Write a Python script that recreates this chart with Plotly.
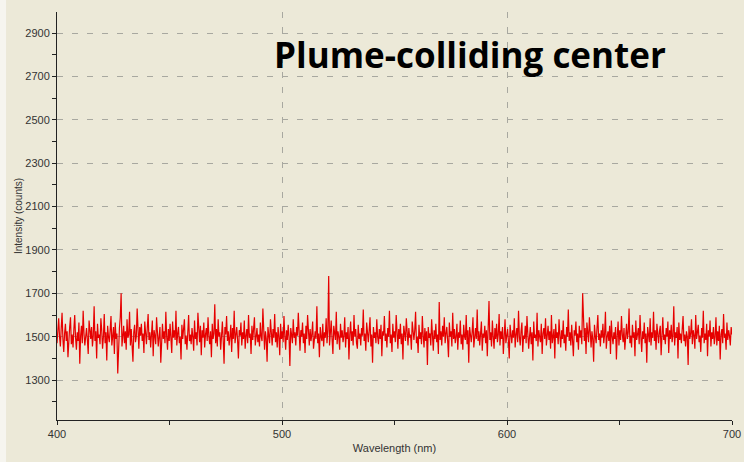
import plotly.graph_objects as go

# Wavelength grid (nm): 400 to 700 in 0.375 nm steps
wl_start = 400.0
wl_step = 0.375

intensity = [
    1470,1520,1585,1500,1455,1540,1610,1490,1430,1515,1560,1480,1525,1405,1500,1545,1590,1465,1510,1450,
    1535,1600,1495,1440,1520,1480,1565,1375,1505,1550,1470,1620,1515,1460,1500,1540,1485,1420,1575,1510,
    1490,1545,1455,1505,1640,1480,1525,1400,1560,1495,1510,1465,1585,1530,1445,1500,1605,1470,1520,1390,
    1550,1500,1475,1530,1595,1460,1510,1545,1420,1565,1490,1515,1330,1480,1540,1590,1700,1455,1505,1550,
    1470,1525,1440,1580,1495,1510,1615,1460,1535,1480,1385,1520,1555,1475,1500,1630,1490,1445,1545,1505,
    1560,1480,1515,1425,1570,1500,1465,1540,1605,1485,1520,1450,1495,1575,1410,1530,1505,1465,1590,1520,
    1455,1500,1545,1380,1510,1560,1490,1525,1470,1615,1500,1440,1535,1480,1560,1505,1425,1570,1495,1530,
    1485,1620,1460,1515,1545,1470,1500,1395,1555,1490,1530,1580,1465,1505,1440,1525,1600,1480,1510,1465,
    1540,1500,1435,1575,1490,1520,1460,1610,1505,1475,1550,1415,1530,1495,1565,1450,1510,1540,1480,1590,
    1500,1465,1525,1405,1560,1490,1515,1650,1470,1535,1455,1580,1500,1520,1440,1505,1570,1485,1375,1545,
    1510,1595,1480,1525,1460,1500,1555,1430,1540,1490,1620,1470,1515,1545,1485,1400,1530,1505,1565,1460,
    1520,1490,1575,1445,1505,1535,1470,1600,1495,1515,1420,1550,1485,1525,1590,1460,1500,1540,1475,1510,
    1455,1565,1500,1480,1630,1515,1440,1525,1490,1385,1545,1505,1470,1580,1510,1460,1535,1495,1605,1475,
    1520,1450,1545,1500,1415,1560,1490,1525,1475,1595,1505,1440,1530,1485,1555,1500,1365,1540,1510,1470,
    1580,1495,1520,1460,1545,1505,1610,1480,1435,1530,1500,1565,1470,1515,1425,1550,1490,1600,1505,1460,
    1535,1480,1510,1570,1445,1500,1525,1490,1640,1470,1515,1405,1545,1500,1480,1560,1455,1520,1495,1585,
    1470,1530,1780,1460,1505,1575,1490,1420,1550,1510,1485,1615,1465,1525,1500,1440,1560,1495,1530,1475,
    1505,1590,1450,1520,1490,1545,1395,1510,1570,1480,1525,1460,1600,1500,1535,1470,1445,1555,1490,1515,
    1460,1540,1505,1625,1480,1515,1435,1565,1500,1475,1530,1590,1455,1510,1380,1545,1495,1520,1470,1580,
    1500,1465,1535,1490,1555,1410,1525,1505,1595,1480,1515,1450,1540,1500,1620,1470,1510,1430,1560,1495,
    1525,1475,1600,1505,1445,1535,1490,1560,1465,1515,1395,1550,1500,1480,1585,1520,1460,1540,1495,1510,
    1440,1570,1505,1485,1530,1615,1470,1500,1425,1555,1490,1520,1465,1595,1505,1450,1540,1480,1525,1370,
    1545,1495,1515,1460,1580,1500,1435,1530,1490,1560,1475,1510,1420,1660,1485,1525,1460,1550,1500,1590,
    1470,1515,1545,1480,1405,1565,1500,1525,1455,1610,1490,1535,1470,1500,1560,1440,1520,1495,1575,1465,
    1510,1440,1555,1500,1485,1600,1465,1530,1380,1545,1505,1475,1520,1590,1450,1510,1540,1490,1625,1480,
    1525,1460,1500,1570,1435,1515,1495,1550,1470,1530,1410,1505,1665,1485,1520,1455,1575,1500,1445,1540,
    1490,1560,1475,1510,1605,1460,1525,1490,1545,1420,1500,1580,1470,1515,1535,1480,1400,1555,1505,1470,
    1530,1495,1585,1450,1510,1540,1475,1620,1500,1460,1525,1565,1430,1505,1490,1550,1470,1595,1515,1445,
    1500,1545,1465,1520,1390,1570,1495,1510,1480,1610,1455,1530,1500,1475,1560,1420,1515,1540,1490,1585,
    1460,1505,1550,1485,1525,1445,1600,1470,1515,1535,1400,1560,1495,1520,1465,1580,1505,1450,1530,1490,
    1575,1470,1510,1435,1545,1500,1625,1480,1520,1460,1555,1495,1410,1530,1505,1570,1475,1515,1440,1550,
    1495,1530,1465,1700,1505,1480,1540,1420,1565,1500,1475,1590,1510,1450,1525,1490,1385,1555,1505,1470,
    1540,1600,1485,1515,1455,1530,1495,1560,1470,1510,1615,1445,1500,1525,1480,1550,1420,1575,1500,1465,
    1520,1490,1545,1395,1505,1570,1460,1530,1485,1595,1510,1475,1540,1440,1500,1560,1490,1520,1630,1470,
    1505,1450,1555,1495,1520,1410,1575,1485,1510,1540,1465,1600,1500,1430,1525,1490,1565,1470,1515,1380,
    1545,1500,1475,1585,1460,1520,1495,1615,1480,1530,1440,1560,1505,1470,1525,1550,1415,1500,1590,1485,
    1510,1465,1540,1500,1570,1425,1530,1490,1555,1475,1505,1640,1460,1520,1495,1545,1400,1565,1485,1515,
    1470,1535,1595,1480,1510,1455,1525,1500,1370,1550,1490,1515,1580,1465,1530,1505,1445,1600,1490,1520,
    1555,1475,1505,1430,1540,1495,1620,1470,1515,1485,1560,1410,1530,1500,1575,1455,1520,1490,1545,1465,
    1500,1590,1460,1525,1480,1550,1395,1510,1535,1470,1605,1495,1515,1440,1565,1485,1530,1505,1460,1545,
    1510,
]
wavelength = [wl_start + wl_step * i for i in range(len(intensity))]

x_ticks = [400, 500, 600, 700]
y_ticks = [1300, 1500, 1700, 1900, 2100, 2300, 2500, 2700, 2900]

title_text = "Plume-colliding center"
x_title = "Wavelength (nm)"
y_title = "Intensity (counts)"

bg = "#ECE9D8"
grid_col = "#A8A8A0"
font_fam = "Liberation Sans, Arial, sans-serif"
tick_font = dict(family=font_fam, size=11, color="#333333")

fig = go.Figure()
fig.add_trace(go.Scatter(
    x=wavelength, y=intensity, mode="lines",
    line=dict(color="#E60000", width=1.2),
    hoverinfo="skip", showlegend=False,
))

fig.update_layout(
    width=744, height=462,
    margin=dict(l=57, r=12, t=12, b=42, autoexpand=False),
    paper_bgcolor=bg, plot_bgcolor=bg,
    showlegend=False,
    xaxis=dict(
        range=[400, 700], tickvals=x_ticks, ticktext=[str(v) for v in x_ticks],
        automargin=False,
        showline=True, linecolor="#222222", linewidth=1,
        ticks="outside", ticklen=4, tickcolor="#222222",
        minor=dict(dtick=50, ticks="outside", ticklen=4, tickcolor="#222222", showgrid=False),
        showgrid=True, gridcolor=grid_col, griddash="6px,9px", gridwidth=1,
        zeroline=False, tickfont=tick_font,
        title=dict(text=x_title, font=dict(family=font_fam, size=11, color="#333333"), standoff=5),
    ),
    yaxis=dict(
        range=[1116, 2997], tickvals=y_ticks, ticktext=[str(v) for v in y_ticks],
        automargin=False,
        showline=True, linecolor="#222222", linewidth=1,
        ticks="outside", ticklen=4, tickcolor="#222222",
        minor=dict(dtick=100, ticks="outside", ticklen=4, tickcolor="#222222", showgrid=False),
        showgrid=True, gridcolor=grid_col, griddash="6px,9px", gridwidth=1,
        zeroline=False, tickfont=tick_font,
        title=dict(text=y_title, font=dict(family=font_fam, size=10, color="#333333"), standoff=0),
    ),
    annotations=[dict(
        text="<b>" + title_text + "</b>", xref="paper", yref="paper",
        x=0.612, y=0.897, xanchor="center", yanchor="middle", showarrow=False,
        font=dict(family="Open Sans, Noto Sans, sans-serif", size=35, color="#000000"),
    )],
    shapes=[dict(
        type="rect", xref="paper", yref="paper",
        x0=-0.0845, x1=-0.0755, y0=-0.103, y1=1.03,
        fillcolor="#F6F5EF", line=dict(width=0), layer="below",
    )],
)

fig.write_html("out.html")
